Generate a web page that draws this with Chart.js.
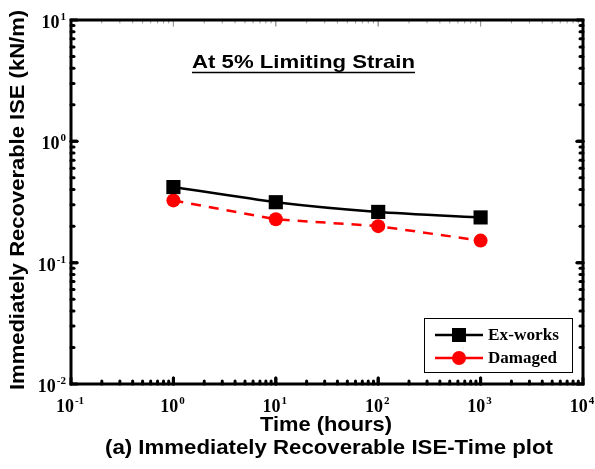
<!DOCTYPE html>
<html>
<head>
<meta charset="utf-8">
<script src="https://cdn.jsdelivr.net/npm/chart.js@4.4.0/dist/chart.umd.min.js"></script>
<style>
  html, body { margin: 0; padding: 0; background: #fff; }
  #wrap { width: 595px; height: 469px; }
</style>
</head>
<body>
<div id="wrap"><canvas id="c" width="595" height="469"></canvas></div>
<script>
// Data
const hours = [1, 10, 100, 1000];
const exWorks = [0.42, 0.315, 0.262, 0.236];
const damaged = [0.326, 0.228, 0.2, 0.152];
const xExponents = [-1, 0, 1, 2, 3, 4];
const yExponents = [-2, -1, 0, 1];

const toPoints = (xs, ys) => xs.map((x, i) => ({ x: x, y: ys[i] }));

const SANS = '"Liberation Sans", Arial, sans-serif';
const SERIF = '"Liberation Serif", "Times New Roman", serif';

// draw text stretched to span [x0, x1]
function fitText(ctx, text, font, x0, x1, y) {
    ctx.save();
    ctx.font = font;
    ctx.textAlign = 'left';
    const w = ctx.measureText(text).width;
    ctx.translate(x0, y);
    ctx.scale((x1 - x0) / w, 1);
    ctx.fillText(text, 0, 0);
    ctx.restore();
}

// frame, inside ticks, tick labels, texts, legend
const decorations = {
    id: 'decorations',
    afterDraw(chart) {
        const ctx = chart.ctx;
        const a = chart.chartArea;
        const xs = chart.scales.x;
        const ys = chart.scales.y;
        ctx.save();

        // minor + major ticks, drawn inward
        ctx.strokeStyle = '#000';
        ctx.lineCap = 'round';
        for (let e = -1; e < 4; e++) {
            for (let m = 1; m <= 10; m++) {
                const px = xs.getPixelForValue(m * Math.pow(10, e));
                const len = (m === 1 || m === 10) ? 6 : 3;
                ctx.lineWidth = 3;
                ctx.beginPath();
                ctx.moveTo(px, a.bottom); ctx.lineTo(px, a.bottom - len);
                ctx.stroke();
                ctx.lineWidth = 1;
                ctx.strokeStyle = '#999';
                ctx.beginPath();
                ctx.moveTo(px, a.top); ctx.lineTo(px, a.top + len);
                ctx.stroke();
                ctx.strokeStyle = '#000';
            }
        }
        for (let e = -2; e < 1; e++) {
            for (let m = 1; m <= 10; m++) {
                const py = ys.getPixelForValue(m * Math.pow(10, e));
                const len = (m === 1 || m === 10) ? 6 : 3;
                ctx.lineWidth = 3;
                ctx.beginPath();
                ctx.moveTo(a.left, py); ctx.lineTo(a.left + len, py);
                ctx.stroke();
                ctx.beginPath();
                ctx.moveTo(a.right, py); ctx.lineTo(a.right - len, py);
                ctx.stroke();
            }
        }

        // frame
        ctx.lineCap = 'butt';
        ctx.lineWidth = 3;
        ctx.strokeRect(a.left, a.top, a.right - a.left, a.bottom - a.top);

        // tick labels "10" with superscript exponent
        const base = 'bold 18px ' + SERIF;
        const sup = 'bold 11px ' + SERIF;
        ctx.fillStyle = '#000';
        ctx.textBaseline = 'alphabetic';
        const drawPow = (exp, x, y, align) => {
            ctx.font = base;
            const w1 = ctx.measureText('10').width;
            ctx.font = sup;
            const w2 = ctx.measureText(String(exp)).width;
            const total = w1 + w2 + 1;
            const x0 = align === 'right' ? x - total : x - total / 2;
            ctx.textAlign = 'left';
            ctx.font = base;
            ctx.fillText('10', x0, y);
            ctx.font = sup;
            ctx.fillText(String(exp), x0 + w1 + 1, y - 8);
        };
        xExponents.forEach(e => {
            drawPow(e, xs.getPixelForValue(Math.pow(10, e)) - 1, a.bottom + 28, 'center');
        });
        yExponents.forEach(e => {
            drawPow(e, a.left - 5, ys.getPixelForValue(Math.pow(10, e)) + 8, 'right');
        });

        // axis titles
        fitText(ctx, 'Time (hours)', 'bold 21px ' + SANS, 260, 392, 431);
        fitText(ctx, '(a) Immediately Recoverable ISE-Time plot', 'bold 21px ' + SANS, 105, 553, 454);
        ctx.save();
        ctx.translate(24, 390);
        ctx.rotate(-Math.PI / 2);
        fitText(ctx, 'Immediately Recoverable ISE (kN/m)', 'bold 21px ' + SANS, 0, 380, 0);
        ctx.restore();

        // inner title, underlined
        fitText(ctx, 'At 5% Limiting Strain', 'bold 19px ' + SANS, 192, 415, 68);
        ctx.lineWidth = 1.5;
        ctx.beginPath();
        ctx.moveTo(192, 72.5); ctx.lineTo(415, 72.5);
        ctx.stroke();

        // legend
        ctx.lineWidth = 1;
        ctx.strokeRect(424.5, 318.5, 148, 54);
        chart.data.datasets.forEach((ds, i) => {
            const ly = 335 + i * 23;
            ctx.save();
            ctx.strokeStyle = ds.borderColor;
            ctx.lineWidth = 2.5;
            ctx.beginPath();
            ctx.moveTo(435, ly); ctx.lineTo(483, ly);
            ctx.stroke();
            ctx.fillStyle = ds.pointBackgroundColor;
            if (ds.pointStyle === 'rect') {
                ctx.fillRect(452, ly - 7, 14, 14);
            } else {
                ctx.beginPath();
                ctx.arc(459, ly, 7, 0, Math.PI * 2);
                ctx.fill();
            }
            ctx.restore();
            fitText(ctx, ds.label, 'bold 17px ' + SERIF, 488, 488 + (i === 0 ? 71 : 69), ly + 5);
        });
        ctx.restore();
    }
};

new Chart(document.getElementById('c'), {
    type: 'line',
    data: {
        datasets: [{
            label: 'Ex-works',
            data: toPoints(hours, exWorks),
            borderColor: '#000',
            borderWidth: 2.5,
            pointStyle: 'rect',
            pointRadius: 10,
            pointBackgroundColor: '#000',
            pointBorderWidth: 0,
            tension: 0.2
        }, {
            label: 'Damaged',
            data: toPoints(hours, damaged),
            borderColor: '#ff0000',
            borderWidth: 2.5,
            borderDash: [10, 8],
            pointStyle: 'circle',
            pointRadius: 7,
            pointBackgroundColor: '#ff0000',
            pointBorderWidth: 0,
            tension: 0
        }]
    },
    options: {
        responsive: false,
        animation: false,
        layout: { padding: { top: 20, right: 12, left: 0, bottom: 0 } },
        plugins: { legend: { display: false }, tooltip: { enabled: false } },
        scales: {
            x: {
                type: 'logarithmic',
                min: 0.1, max: 10000,
                grid: { display: false, drawTicks: false },
                border: { display: false },
                ticks: { display: false },
                afterFit(s) { s.height = 85; }
            },
            y: {
                type: 'logarithmic',
                min: 0.01, max: 10,
                grid: { display: false, drawTicks: false },
                border: { display: false },
                ticks: { display: false },
                afterFit(s) { s.width = 71; }
            }
        }
    },
    plugins: [decorations]
});
</script>
</body>
</html>
